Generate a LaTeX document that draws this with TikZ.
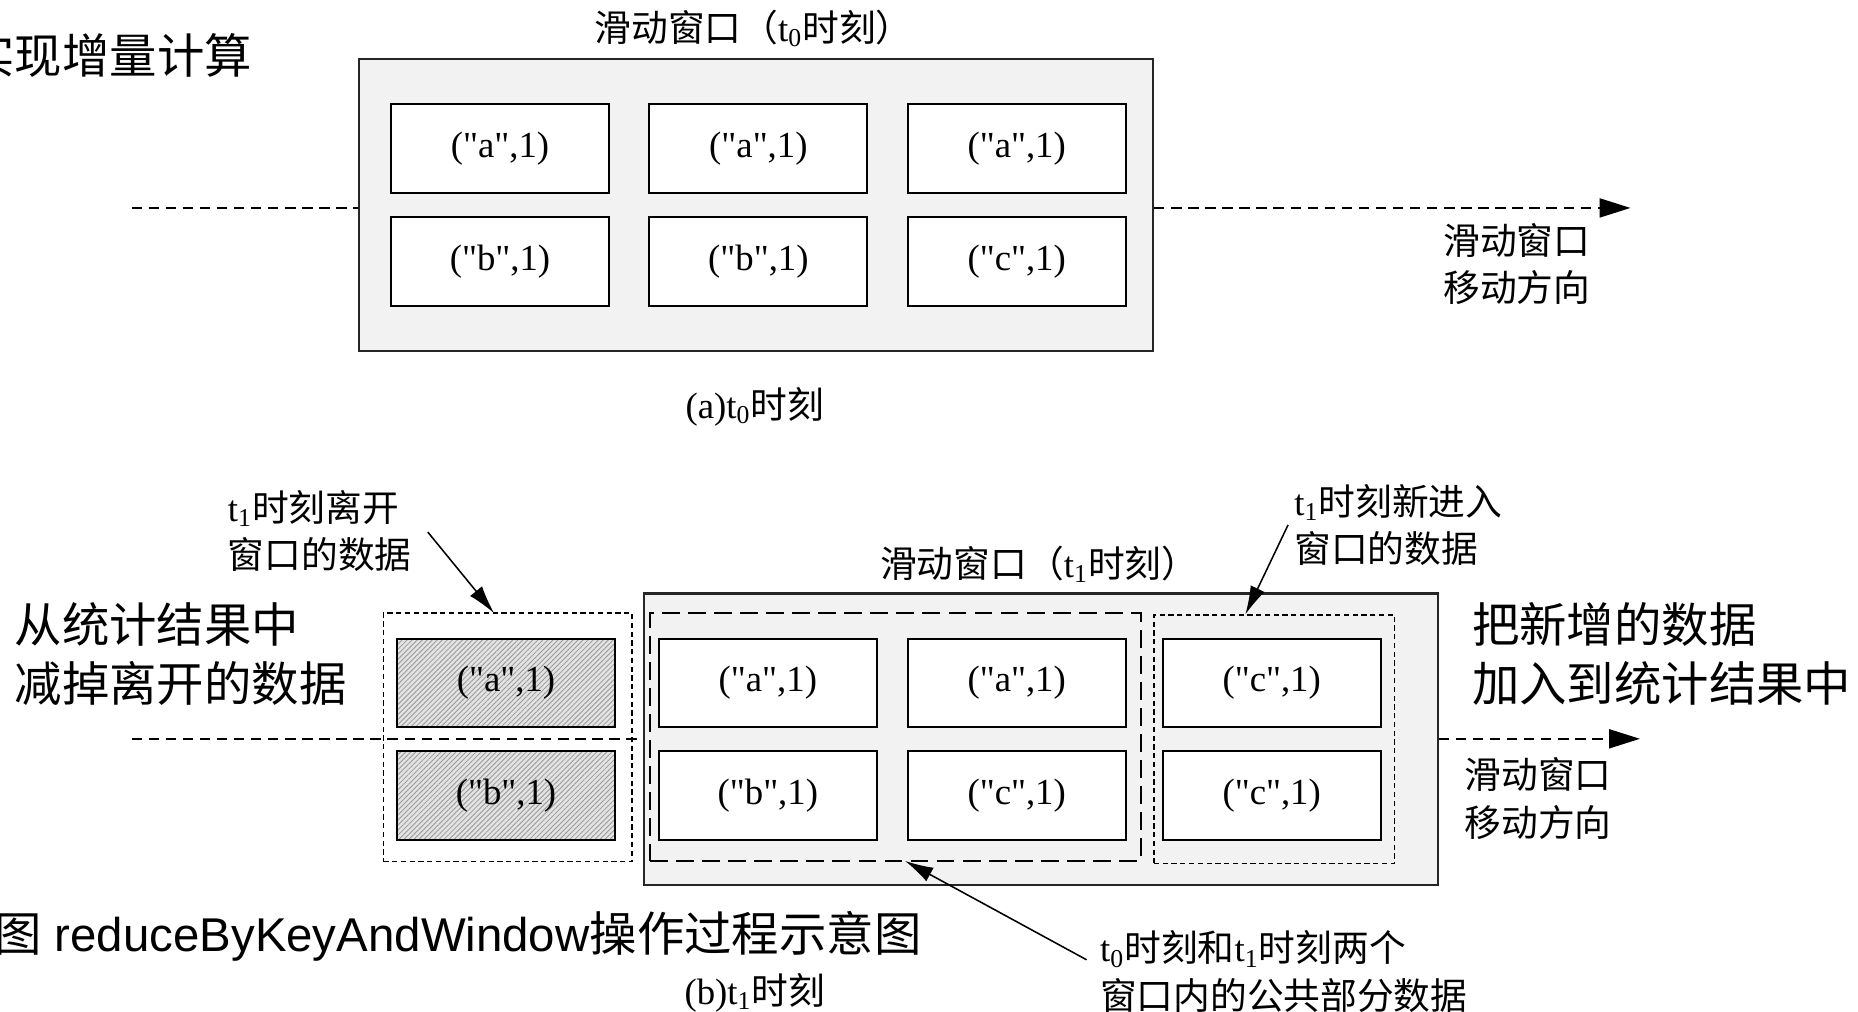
\documentclass[tikz,border=0pt]{standalone}
\usepackage{fontspec}
\setmainfont{Liberation Serif}[Ligatures=TeXOff]
\setsansfont{Liberation Sans}
\newfontfamily\cjk{Noto Sans CJK SC}
\usetikzlibrary{arrows.meta,patterns.meta}
\newcommand\zh[1]{{\cjk #1}}
\newcommand\notesize{\fontsize{15.5}{20}\selectfont}
\newcommand\bigsize{\fontsize{20}{25}\selectfont}

\tikzset{
  winbox/.style={draw=black!85, fill=gray!10, line width=0.9pt,
    minimum width=335pt, minimum height=123pt, inner sep=0pt},
  kvbox/.style={draw, fill=white, line width=0.85pt, minimum width=92pt,
    minimum height=37.5pt, inner sep=0pt, font=\notesize},
  oldbox/.style={kvbox, preaction={fill=gray!22},
    pattern={Lines[angle=45,distance=1.5pt,line width=0.35pt]}, pattern color=gray!80},
  leftgrp/.style={draw, line width=0.65pt, dash pattern=on 2.2pt off 1.5pt, inner sep=0pt},
  commongrp/.style={draw, line width=0.85pt, dash pattern=on 7.5pt off 3.5pt, inner sep=0pt},
  moveline/.style={line width=0.8pt, dash pattern=on 4.4pt off 2.8pt},
  movetip/.style={-{Triangle[length=13pt,width=8pt]}},
  notearrow/.style={line width=0.65pt, -{Latex[length=12pt,width=6.5pt]}},
  note/.style={inner sep=0pt, font=\notesize},
  bigtext/.style={inner sep=0pt, font=\bigsize\sffamily}
}

\begin{document}
\begin{tikzpicture}[x=0.5pt,y=-0.5pt]
\useasboundingbox (0,0) rectangle (1568,854);

% (a) window at t0
\node[bigtext, anchor=east] (head) at (213,47) {\zh{实现增量计算}};
\node[note] (win0-title) at (636,24) {\zh{滑动窗口（}t\textsubscript{0}\zh{时刻）}};
\node[winbox] (win0) at (638,173) {};
\node[kvbox] (a1) at (422,125.5) {("a",1)};
\node[kvbox] (a2) at (640,125.5) {("a",1)};
\node[kvbox] (a3) at (858,125.5) {("a",1)};
\node[kvbox] (b1) at (422,220.5) {("b",1)};
\node[kvbox] (b2) at (640,220.5) {("b",1)};
\node[kvbox] (b3) at (858,220.5) {("c",1)};
\coordinate (move0-start) at (111,175.5);
\coordinate (move0-end) at (1376,175.5);
\draw[moveline] (move0-start) -- (move0-start -| win0.west);
\draw[moveline, movetip] (move0-end -| win0.east) -- (move0-end);
\node[note, align=center] (dir0) at (1280,223) {\zh{滑动窗口}\\\zh{移动方向}};
\node[note] (cap0) at (637,343) {(a)t\textsubscript{0}\zh{时刻}};

% (b) window at t1
\node[note] (win1-title) at (877,476) {\zh{滑动窗口（}t\textsubscript{1}\zh{时刻）}};
\node[winbox] (win1) at (878.2,623.9) {};
\node[leftgrp, minimum width=105pt, minimum height=104.75pt] (leftgrp) at (428.5,622.25) {};
\node[commongrp, minimum width=207pt, minimum height=104.5pt] (commongrp) at (755.5,622.1) {};
\node[leftgrp, minimum width=101.6pt, minimum height=104.8pt] (newgrp) at (1075.4,623.8) {};
\node[oldbox] (old1) at (427,576.4) {("a",1)};
\node[oldbox] (old2) at (427,671.3) {("b",1)};
\node[kvbox] (c1) at (648,576.4) {("a",1)};
\node[kvbox] (c2) at (858,576.4) {("a",1)};
\node[kvbox] (c3) at (1073.2,576.4) {("c",1)};
\node[kvbox] (d1) at (648,671.3) {("b",1)};
\node[kvbox] (d2) at (858,671.3) {("c",1)};
\node[kvbox] (d3) at (1073.2,671.3) {("c",1)};
\coordinate (move1-start) at (111,623.5);
\coordinate (move1-end) at (1384,623.5);
\draw[moveline] (move1-start) -- (move1-start -| win1.west);
\draw[moveline, movetip] (move1-end -| win1.east) -- (move1-end);
\node[note, align=center] (dir1) at (1298,674) {\zh{滑动窗口}\\\zh{移动方向}};

% notes and arrows
\node[note, anchor=west, align=left] (leave-note) at (192,448) {t\textsubscript{1}\zh{时刻离开}\\\zh{窗口的数据}};
\coordinate (leave-tail) at (361,449);
\coordinate (leave-tip) at (417,517.5);
\draw[notearrow] (leave-tail) -- (leave-tip);
\node[note, anchor=west, align=left] (enter-note) at (1092,443) {t\textsubscript{1}\zh{时刻新进入}\\\zh{窗口的数据}};
\coordinate (enter-tail) at (1087,443);
\coordinate (enter-tip) at (1051,518.5);
\draw[notearrow] (enter-tail) -- (enter-tip);
\node[note, anchor=west, align=left] (common-note) at (928,820) {t\textsubscript{0}\zh{时刻和}t\textsubscript{1}\zh{时刻两个}\\\zh{窗口内的公共部分数据}};
\coordinate (common-tail) at (917,810);
\coordinate (common-tip) at (763.7,726.5);
\draw[notearrow] (common-tail) -- (common-tip);

\node[bigtext, anchor=west, align=left] (minus) at (12,552) {\zh{从统计结果中}\\\zh{减掉离开的数据}};
\node[bigtext, anchor=west, align=left] (plus) at (1242,552) {\zh{把新增的数据}\\\zh{加入到统计结果中}};
\node[bigtext, anchor=east] (caption) at (778,790) {\zh{图} reduceByKeyAndWindow\zh{操作过程示意图}};
\node[note] (cap1) at (637,838) {(b)t\textsubscript{1}\zh{时刻}};
\end{tikzpicture}
\end{document}
